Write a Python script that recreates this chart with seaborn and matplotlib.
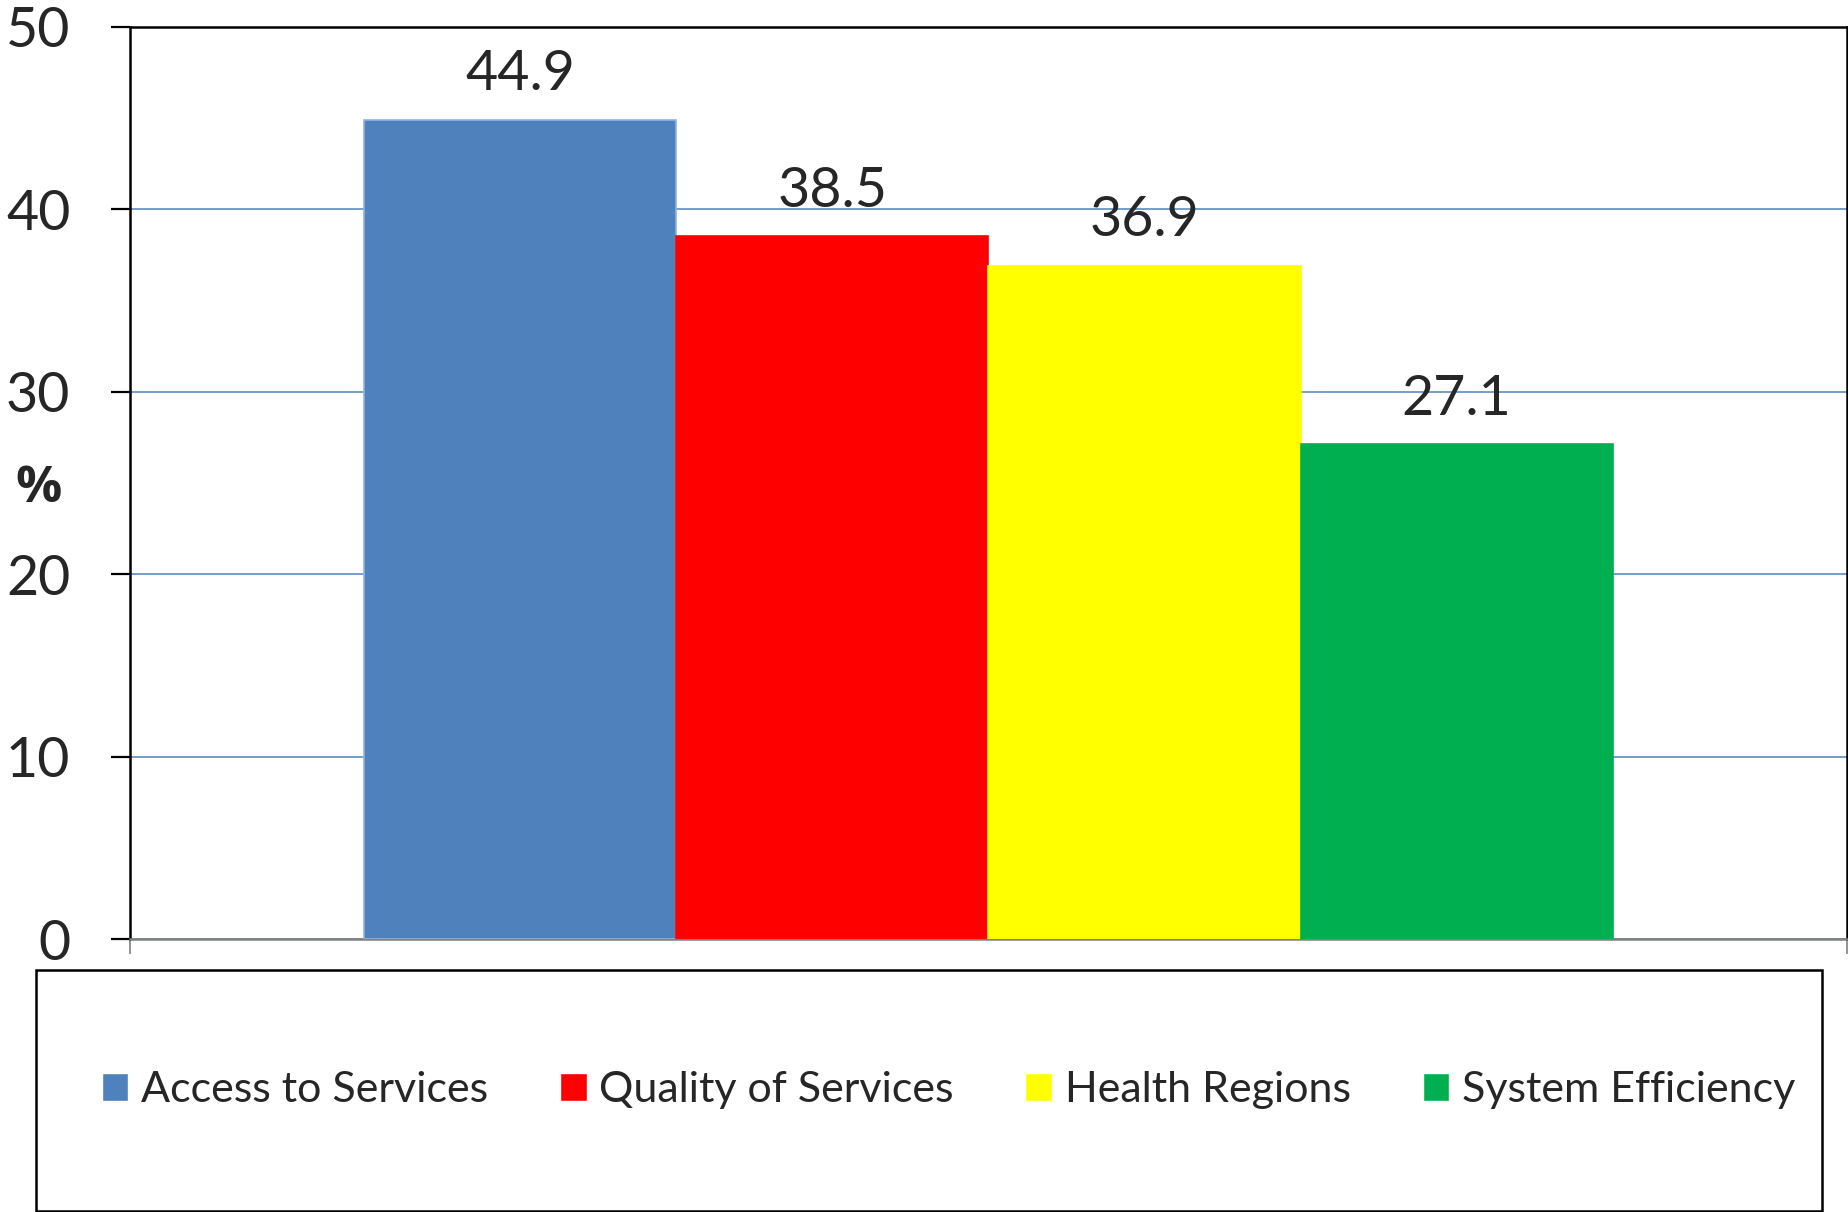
import matplotlib
matplotlib.use("Agg")
import matplotlib.pyplot as plt
from matplotlib.patches import Rectangle
import pandas as pd
import seaborn as sns

# values
series = ["Access to Services", "Quality of Services", "Health Regions", "System Efficiency"]
values = [44.9, 38.5, 36.9, 27.1]
colors = ["#4F81BD", "#FF0000", "#FFFF00", "#00B050"]
edges = ["#8EB4E3", "#FF0000", "#FFFF00", "#00B050"]
y_ticks = [0, 10, 20, 30, 40, 50]

df = pd.DataFrame({"group": ["all"] * len(series), "series": series, "value": values})

sns.set_style("white")
plt.rcParams["font.family"] = ["Lato", "DejaVu Sans"]

fig = plt.figure(figsize=(18.49, 12.12), dpi=100)
ax = fig.add_axes([0.0703, 0.2252, 0.9286, 0.7529])

sns.barplot(data=df, x="group", y="value", hue="series", hue_order=series,
            palette=colors, width=0.727, gap=0, saturation=1, ax=ax, zorder=3)

for cont, ec in zip(ax.containers, edges):
    for bar in cont:
        bar.set_edgecolor(ec)
        bar.set_linewidth(1.2)
    ax.bar_label(cont, fmt="%.1f", padding=14, fontsize=40)

handles, labels = ax.get_legend_handles_labels()
ax.get_legend().remove()

ax.set_ylim(0, 50)
ax.set_xlim(-0.5, 0.5)
ax.set_yticks(y_ticks)
ax.set_xticks([-0.5, 0.5])
ax.set_xticklabels([])
ax.set_xlabel("")
ax.set_ylabel("%", rotation=0, fontsize=37, fontweight="bold",
              family=["Open Sans", "DejaVu Sans"])
ax.yaxis.set_label_coords(-0.053, 0.466)

ax.yaxis.grid(True, color="#4F81BD", linewidth=1.1, zorder=0)
ax.set_axisbelow(True)
ax.tick_params(axis="y", which="major", length=14, width=1.6, color="black",
               labelsize=40, pad=29, left=True)
ax.tick_params(axis="x", which="major", length=11, width=1.2, color="#808080", bottom=True)

for side in ["left", "top", "right"]:
    ax.spines[side].set_color("black")
    ax.spines[side].set_linewidth(1.8)
ax.spines["bottom"].set_color("#808080")
ax.spines["bottom"].set_linewidth(1.8)

# legend box below the plot
fig.patches.append(Rectangle((36 / 1849, 1 / 1212), (1822 - 36) / 1849, (1211 - 970) / 1212,
                             transform=fig.transFigure, fill=False, edgecolor="black",
                             linewidth=1.8))
fig.legend(handles, labels, loc="center", bbox_to_anchor=(0.513, (1212 - 1090) / 1212),
           ncol=4, frameon=False, fontsize=31, handlelength=0.62, handleheight=0.62,
           handletextpad=0.3, columnspacing=1.66)

fig.savefig("out.png", dpi=100)
